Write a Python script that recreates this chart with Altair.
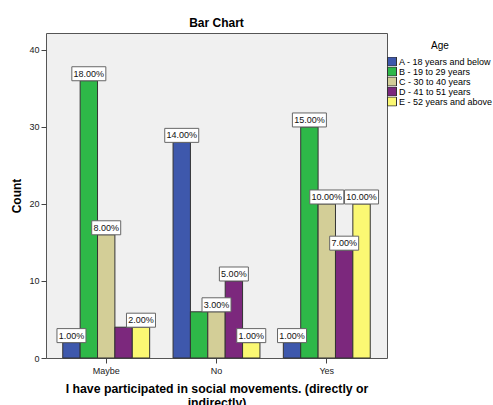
import altair as alt
import pandas as pd

# Survey responses, counts per age group
categories = ["Maybe", "No", "Yes"]
age_groups = [
    "A - 18 years and below",
    "B - 19 to 29 years",
    "C - 30 to 40 years",
    "D - 41 to 51 years",
    "E - 52 years and above",
]
counts_a = [2, 28, 2]
counts_b = [36, 6, 30]
counts_c = [16, 6, 20]
counts_d = [4, 10, 14]
counts_e = [4, 2, 20]
# labels that SPSS suppresses because they collide with a neighbour
hidden_labels = [("Maybe", "D - 41 to 51 years"), ("No", "B - 19 to 29 years")]

colors = ["#3E58AC", "#2EB848", "#D3CE97", "#7C287D", "#FBF873"]

series = [counts_a, counts_b, counts_c, counts_d, counts_e]
total = sum(sum(s) for s in series)
rows = []
for g, vals in zip(age_groups, series):
    for c, v in zip(categories, vals):
        rows.append({
            "response": c,
            "age": g,
            "count": v,
            "label": f"{100 * v / total:.2f}%",
            "shown": (c, g) not in hidden_labels,
        })
df = pd.DataFrame(rows)

font = "Liberation Sans"

x_enc = alt.X(
    "response:N",
    sort=categories,
    scale=alt.Scale(paddingInner=0.212, paddingOuter=0.152),
    axis=alt.Axis(
        title=["I have participated in social movements. (directly or", "indirectly)"],
        labelAngle=0,
        tickSize=5,
        labelPadding=3,
        titlePadding=7,
        titleFontSize=12.3,
        domain=False,
    ),
)
xoff = alt.XOffset("age:N", sort=age_groups)
y_enc = alt.Y(
    "count:Q",
    scale=alt.Scale(domain=[0, 42.2], nice=False),
    axis=alt.Axis(
        title="Count",
        values=[0, 10, 20, 30, 40],
        tickSize=5,
        labelPadding=2,
        titlePadding=5,
        domain=False,
        grid=False,
    ),
)

bars = alt.Chart(df).mark_bar(stroke="#333333", strokeWidth=1, opacity=1).encode(
    x=x_enc,
    xOffset=xoff,
    y=y_enc,
    color=alt.Color(
        "age:N",
        sort=age_groups,
        scale=alt.Scale(domain=age_groups, range=colors),
        legend=alt.Legend(
            title="Age",
            orient="none",
            legendX=341,
            legendY=8,
            titleAnchor="middle",
            titleFontWeight="normal",
            titleFontSize=10,
            titlePadding=6,
            labelFontSize=9,
            symbolType="square",
            symbolSize=81,
            symbolStrokeColor="#333333",
            symbolStrokeWidth=1,
            symbolOpacity=1,
            clipHeight=9,
            rowPadding=0,
            labelOffset=2,
            padding=0,
        ),
    ),
)

labelled = alt.Chart(df).transform_filter("datum.shown").transform_calculate(
    w="length(datum.label) * 5 + 4"
)

boxes = labelled.mark_tick(
    thickness=14, filled=True, fill="white", stroke="#666666", strokeWidth=1,
    opacity=1, yOffset=-7,
).encode(
    x=alt.X("response:N", sort=categories),
    xOffset=xoff,
    y="count:Q",
    size=alt.Size("w:Q", scale=None),
)

texts = labelled.mark_text(
    fontSize=9, font=font, color="#111111", baseline="middle", dy=-7,
).encode(
    x=alt.X("response:N", sort=categories),
    xOffset=xoff,
    y="count:Q",
    text="label:N",
)

chart = (
    alt.layer(bars, boxes, texts)
    .properties(
        width=341,
        height=325,
        title=alt.TitleParams("Bar Chart", fontSize=12, fontWeight="bold", font=font, offset=3),
        autosize=alt.AutoSizeParams(type="none"),
        padding={"left": 46, "top": 33, "right": 106, "bottom": 47},
        background="white",
    )
    .configure_view(fill="#F0F0F0", stroke="#555555", strokeWidth=1)
    .configure_axis(
        labelFont=font, labelFontSize=9, labelColor="#222222",
        titleFont=font, titleFontSize=12, titleFontWeight="bold", titleColor="#000000",
        tickColor="#444444",
    )
    .configure_legend(labelFont=font, titleFont=font, labelColor="#000000", titleColor="#000000")
)

chart.save("out.html", embed_options={"renderer": "svg", "actions": False})
